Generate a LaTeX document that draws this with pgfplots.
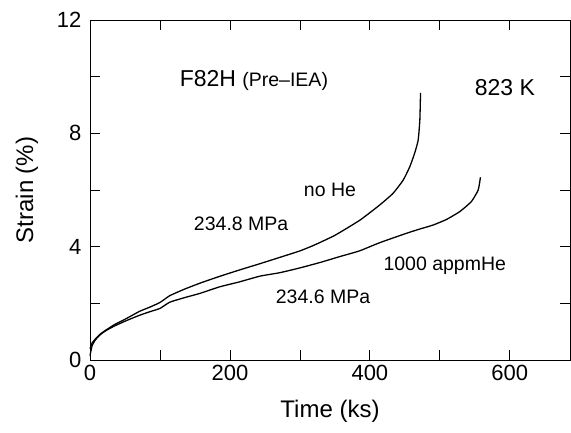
\documentclass[border=0pt]{standalone}
\usepackage{pgfplots}
\pgfplotsset{compat=1.18}
\usepackage{fontspec}
\setmainfont{Liberation Sans}
\begin{document}
\begin{tikzpicture}
\path[use as bounding box] (-90pt,-73pt) rectangle (481pt,360pt);
\begin{axis}[
  at={(0pt,0pt)}, anchor=south west,
  scale only axis, width=480pt, height=340pt,
  xmin=0, xmax=686, ymin=0, ymax=12,
  xtick={0,200,400,600}, minor xtick={100,300,500},
  ytick={0,4,8,12}, minor ytick={2,6,10},
  tick align=inside, major tick length=10pt, minor tick length=10pt,
  tick style={black, line width=0.8pt},
  axis line style={line width=0.9pt},
  every tick label/.style={font=\fontsize{22}{25}\selectfont},
  /pgf/number format/assume math mode=true,
  xticklabel style={yshift=-2pt},
  yticklabel style={xshift=-5pt},
  xlabel={Time (ks)}, ylabel={Strain (\%)},
  label style={font=\fontsize{24}{28}\selectfont},
  xlabel style={yshift=-12pt},
  ylabel style={yshift=12pt},
  clip=false,
]
\addplot[black, line width=1.3pt, smooth, tension=0.3] coordinates {
(0,0.4) (3,0.6) (8,0.75) (15,0.92) (23,1.06) (35,1.25) (51,1.45) (71,1.72) (85,1.86) (100,2.03) (114,2.27) (135,2.5) (157,2.71) (185,2.95) (214,3.18) (243,3.4) (271,3.62) (300,3.85) (320,4.05) (350,4.4) (386,4.94) (414,5.47) (433,5.88) (447.6,6.35) (457,6.82) (464,7.3) (469,7.76) (471.4,8.47) (472.4,9.43)
};
\addplot[black, line width=1.3pt, smooth, tension=0.3] coordinates {
(0,0.15) (3,0.5) (8,0.72) (15,0.9) (23,1.04) (35,1.2) (51,1.38) (71,1.58) (85,1.7) (100,1.82) (114,2.04) (135,2.2) (157,2.35) (185,2.58) (214,2.76) (243,2.96) (271,3.08) (300,3.25) (330,3.45) (357,3.65) (385,3.85) (414,4.14) (452,4.47) (471,4.62) (490,4.76) (509.5,4.96) (528.6,5.24) (545,5.59) (554.8,6.0) (558,6.45)
};
\node[anchor=west, inner sep=0pt] at (axis cs:128,9.88) {\fontsize{23}{26}\selectfont F82H \fontsize{19.5}{23}\selectfont(Pre--IEA)};
\node[inner sep=0pt] at (axis cs:593,9.6) {\fontsize{23}{26}\selectfont 823 K};
\node[inner sep=0pt] at (axis cs:343,6.0) {\fontsize{19.5}{23}\selectfont no He};
\node[inner sep=0pt] at (axis cs:216,4.8) {\fontsize{19.5}{23}\selectfont 234.8 MPa};
\node[inner sep=0pt] at (axis cs:507,3.32) {\fontsize{19.5}{23}\selectfont 1000 appmHe};
\node[inner sep=0pt] at (axis cs:333,2.22) {\fontsize{19.5}{23}\selectfont 234.6 MPa};
\end{axis}
\end{tikzpicture}
\end{document}
